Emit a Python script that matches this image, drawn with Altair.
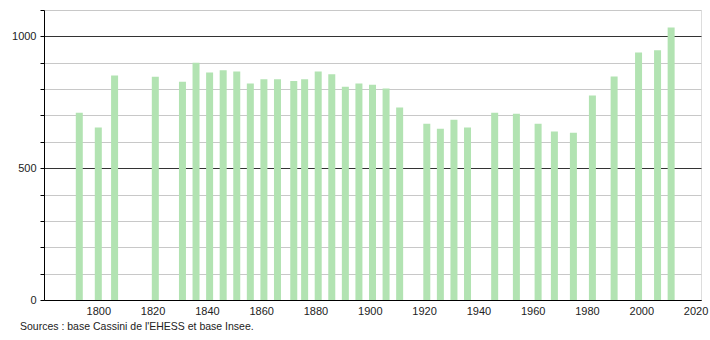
import altair as alt
import pandas as pd

years = [1793, 1800, 1806, 1821, 1831, 1836, 1841, 1846, 1851, 1856, 1861, 1866,
         1872, 1876, 1881, 1886, 1891, 1896, 1901, 1906, 1911, 1921, 1926, 1931,
         1936, 1946, 1954, 1962, 1968, 1975, 1982, 1990, 1999, 2006, 2011]
population = [710, 654, 852, 847, 828, 900, 863, 871, 867, 821, 837, 837,
              831, 837, 867, 856, 809, 821, 816, 802, 730, 669, 650, 684,
              654, 710, 706, 669, 639, 634, 776, 848, 939, 947, 1034]
x_ticks = [1800, 1820, 1840, 1860, 1880, 1900, 1920, 1940, 1960, 1980, 2000, 2020]
y_ticks = list(range(0, 1101, 100))
source_text = "Sources : base Cassini de l'EHESS et base Insee."

df = pd.DataFrame({"year": years, "pop": population})

FONT = "Liberation Sans"

xscale = alt.Scale(domain=[1780, 2022], nice=False, zero=False, padding=0)
yscale = alt.Scale(domain=[0, 1100], nice=False)

grid_color = {"condition": {"test": "datum.value % 500 === 0", "value": "#333333"},
              "value": "#c8c8c8"}

bars = alt.Chart(df).mark_bar(width=7, color="#b2e3b2").encode(
    x=alt.X("year:Q", scale=xscale,
            axis=alt.Axis(values=x_ticks, format="d", title=None, grid=False,
                          ticks=False, domainColor="black", labelColor="#222",
                          labelFontSize=11, labelFont=FONT, labelPadding=5,
                          labelBound=False, labelFlush=False, labelOverlap=False)),
    y=alt.Y("pop:Q", scale=yscale,
            axis=alt.Axis(values=y_ticks, format="d", title=None, grid=True,
                          gridColor=grid_color, gridWidth=1, tickSize=4,
                          tickColor="black", domainColor="black", labelColor="#222",
                          labelFontSize=11, labelFont=FONT, labelPadding=4,
                          labelOverlap=False,
                          labelExpr="datum.value % 500 === 0 ? datum.label : ''")),
)

src = alt.Chart(pd.DataFrame({"t": [source_text]})).mark_text(
    align="left", baseline="middle", fontSize=10.5, font=FONT, color="#222"
).encode(text="t:N", x=alt.value(-24), y=alt.value(317))

chart = alt.layer(bars, src).properties(
    width=657, height=290,
    autosize=alt.AutoSizeParams(type="none"),
    padding={"left": 44, "top": 10, "right": 9, "bottom": 40},
).configure_view(stroke=None).configure(background="white")

chart.save("out.html", embed_options={"renderer": "svg", "actions": False})
